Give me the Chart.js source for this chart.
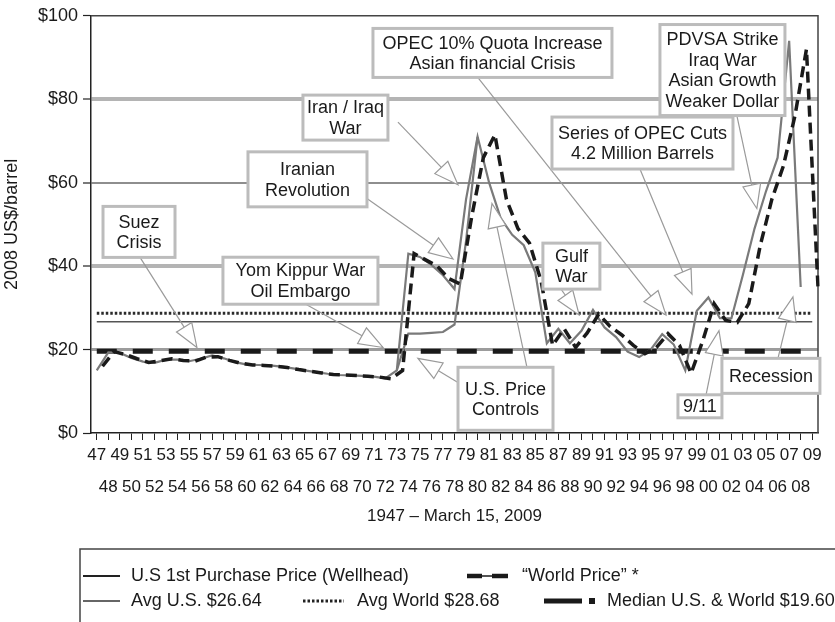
<!DOCTYPE html>
<html>
<head>
<meta charset="utf-8">
<script src="https://cdn.jsdelivr.net/npm/chart.js@4.4.1/dist/chart.umd.min.js"></script>
<style>
  html, body { margin: 0; padding: 0; background: #fff; }
  #wrap { width: 835px; height: 622px; }
</style>
</head>
<body>
<div id="wrap"><canvas id="oil-chart"></canvas></div>
<script>
/* Data, 2008 US$ per barrel */
// one category per year, 1947 - 2009
let years = ['47','48','49','50','51','52','53','54','55','56','57','58','59','60','61','62',
  '63','64','65','66','67','68','69','70','71','72','73','74','75','76','77','78','79','80',
  '81','82','83','84','85','86','87','88','89','90','91','92','93','94','95','96','97','98',
  '99','00','01','02','03','04','05','06','07','08','09']

// U.S. 1st purchase price (wellhead), solid line
let usPrice = [15.0, 19.3, 19.2, 18.0, 17.1, 16.8, 17.6, 17.6, 17.2, 17.8, 18.6, 17.9, 17.0,
  16.4, 16.3, 16.2, 15.9, 15.5, 15.0, 14.6, 14.2, 13.9, 13.8, 13.7, 13.5, 13.1, 15.0,
  43.0, 42.2, 40.3, 37.8, 34.5, 56.0, 71.0, 60.0, 51.5, 47.5, 45.0, 38.5, 21.5,
  25.0, 21.5, 24.5, 29.5, 25.3, 23.0, 19.5, 18.2, 20.0, 23.7, 21.2, 15.0,
  29.3, 32.5, 27.5, 27.5, 38.0, 49.0, 58.0, 66.0, 94.0, 35.0, null]

// lower U.S. track during price controls (1973 - 1980)
let usControlledPrice = [null, null, null, null, null, null, null, null, null, null, null, null, null,
  null, null, null, null, null, null, null, null, null, null, null, null, null, 15.0,
  23.8, 23.8, 24.0, 24.2, 26.0, 46.0, 71.0, null, null, null, null, null, null,
  null, null, null, null, null, null, null, null, null, null, null, null,
  null, null, null, null, null, null, null, null, null, null, null]

// "World Price", dashed line (drawn at the end of each year)
let worldPrice = [16.0, 19.5, 18.8, 17.8, 16.9, 17.3, 17.8, 17.4, 17.2, 18.2, 18.3, 17.4, 16.7,
  16.3, 16.2, 16.0, 15.7, 15.2, 14.8, 14.4, 14.0, 13.9, 13.8, 13.6, 13.4, 13.0, 15.0,
  43.0, 41.5, 40.0, 37.0, 35.7, 52.0, 66.0, 71.5, 56.0, 49.0, 45.5, 36.5, 21.0,
  25.0, 20.5, 24.0, 28.5, 25.5, 23.5, 21.0, 19.0, 20.5, 23.8, 21.0, 14.3,
  22.0, 31.0, 27.0, 26.5, 31.0, 45.0, 56.0, 64.0, 76.0, 92.0, 35.0]

let avgUS = 26.64
let avgWorld = 28.68
let medianPrice = 19.60

let yTicks = [0, 20, 40, 60, 80, 100]

// year boundaries: boundary k+1 is the end of year k
let yearEnds = ['start'].concat(years)

let FONT = "'Liberation Sans', Arial, Helvetica, sans-serif"
let TEXT = '#1a1a1a'

/* Callout boxes: centre and arrows in data units (year index, $) */
let callouts = [
  { text: ['Suez', 'Crisis'], at: [3.66, 48.2], w: 72, h: 51, arrows: [[3.75, 42.1, 8.68, 20.5]] },
  { text: ['Yom Kippur War', 'Oil Embargo'], at: [17.65, 36.5], w: 155, h: 47, arrows: [[18.04, 31.0, 24.8, 20.5]] },
  { text: ['Iranian', 'Revolution'], at: [18.26, 60.8], w: 119, h: 55, arrows: [[23.41, 56.2, 30.87, 41.7]] },
  { text: ['Iran / Iraq', 'War'], at: [21.55, 75.6], w: 85, h: 45, arrows: [[26.1, 74.5, 31.3, 59.5]] },
  { text: ['OPEC 10% Quota Increase', 'Asian financial Crisis'], at: [34.29, 91.1], w: 239, h: 49, arrows: [[33.03, 85.2, 49.32, 28.3]] },
  { text: ['Series of OPEC Cuts', '4.2 Million Barrels'], at: [47.29, 69.5], w: 181, h: 52, arrows: [[47.07, 63.3, 51.58, 33.3]] },
  { text: ['PDVSA Strike', 'Iraq War', 'Asian Growth', 'Weaker Dollar'], at: [54.22, 87.0], w: 125, h: 91, arrows: [[55.46, 76.2, 57.2, 53.8]] },
  { text: ['Gulf', 'War'], at: [41.13, 40.0], w: 57, h: 46, arrows: [[40.23, 34.5, 41.8, 28.3]] },
  { text: ['U.S. Price', 'Controls'], at: [35.42, 8.2], w: 95, h: 63, arrows: [[31.3, 12.1, 27.83, 17.9], [37.28, 15.7, 34.25, 55.0]] },
  { text: ['9/11'], at: [52.27, 6.4], w: 44, h: 23, arrows: [[52.79, 9.0, 53.92, 24.5]] },
  { text: ['Recession'], at: [58.42, 13.7], w: 98, h: 35, arrows: [[59.03, 17.9, 60.33, 32.6]] }
]

// fractional category index + value -> canvas pixels
function toPixel(chart, idx, val) {
  let xs = chart.scales.x
  let x0 = xs.getPixelForValue(0)
  let step = xs.getPixelForValue(1) - x0
  return [x0 + idx * step, chart.scales.y.getPixelForValue(val)]
}

function drawArrow(ctx, x1, y1, x2, y2) {
  let len = Math.hypot(x2 - x1, y2 - y1)
  let ux = (x2 - x1) / len, uy = (y2 - y1) / len
  let headLen = 24, half = 9
  let bx = x2 - ux * headLen, by = y2 - uy * headLen
  ctx.strokeStyle = '#9a9a9a'
  ctx.lineWidth = 1.2
  ctx.beginPath()
  ctx.moveTo(x1, y1)
  ctx.lineTo(bx, by)
  ctx.stroke()
  ctx.beginPath()
  ctx.moveTo(x2, y2)
  ctx.lineTo(bx - uy * half, by + ux * half)
  ctx.lineTo(bx + uy * half, by - ux * half)
  ctx.closePath()
  ctx.fillStyle = '#fff'
  ctx.fill()
  ctx.stroke()
}

let calloutPlugin = {
  id: 'callouts',
  afterDatasetsDraw(chart) {
    let ctx = chart.ctx
    ctx.save()
    callouts.forEach(c => {
      c.arrows.forEach(a => {
        let p1 = toPixel(chart, a[0], a[1])
        let p2 = toPixel(chart, a[2], a[3])
        drawArrow(ctx, p1[0], p1[1], p2[0], p2[1])
      })
    })
    callouts.forEach(c => {
      let p = toPixel(chart, c.at[0], c.at[1])
      let left = p[0] - c.w / 2, top = p[1] - c.h / 2
      ctx.fillStyle = '#fff'
      ctx.fillRect(left, top, c.w, c.h)
      ctx.strokeStyle = '#bcbcbc'
      ctx.lineWidth = 3
      ctx.strokeRect(left, top, c.w, c.h)
      ctx.fillStyle = TEXT
      ctx.font = '18px ' + FONT
      ctx.textAlign = 'center'
      ctx.textBaseline = 'middle'
      let lh = 20.5
      let y0 = p[1] - (c.text.length - 1) * lh / 2
      c.text.forEach((t, i) => ctx.fillText(t, p[0], y0 + i * lh + 1))
    })
    ctx.restore()
  }
}

// thin frame on top and right of the plot
let framePlugin = {
  id: 'frame',
  beforeDatasetsDraw(chart) {
    let a = chart.chartArea
    let ctx = chart.ctx
    ctx.save()
    ctx.strokeStyle = '#444'
    ctx.lineWidth = 1.5
    ctx.beginPath()
    ctx.moveTo(a.left, a.top)
    ctx.lineTo(a.right, a.top)
    ctx.lineTo(a.right, a.bottom)
    ctx.stroke()
    ctx.restore()
  }
}

function legendLine(ctx, x1, x2, y, width, dash, color) {
  ctx.strokeStyle = color
  ctx.lineWidth = width
  ctx.setLineDash(dash)
  ctx.beginPath()
  ctx.moveTo(x1, y)
  ctx.lineTo(x2, y)
  ctx.stroke()
  ctx.setLineDash([])
}

let legendPlugin = {
  id: 'boxLegend',
  afterDraw(chart) {
    let ctx = chart.ctx
    ctx.save()
    // box edge
    ctx.strokeStyle = '#444'
    ctx.lineWidth = 1.5
    ctx.beginPath()
    ctx.moveTo(80, 622)
    ctx.lineTo(80, 549)
    ctx.lineTo(835, 549)
    ctx.stroke()

    let row1 = 576, row2 = 601
    ctx.font = '18px ' + FONT
    ctx.fillStyle = TEXT
    ctx.textAlign = 'left'
    ctx.textBaseline = 'middle'

    legendLine(ctx, 83, 120, row1, 2, [], '#222')
    ctx.fillText('U.S 1st Purchase Price (Wellhead)', 131, row1)

    legendLine(ctx, 467, 482, row1, 4.5, [], '#1a1a1a')
    legendLine(ctx, 482, 492, row1, 1.5, [], '#1a1a1a')
    legendLine(ctx, 492, 508, row1, 4.5, [], '#1a1a1a')
    ctx.fillText('\u201cWorld Price\u201d *', 522, row1)

    legendLine(ctx, 83, 120, row2, 1.5, [], '#333')
    ctx.fillText('Avg U.S. $' + avgUS.toFixed(2), 131, row2)

    legendLine(ctx, 303, 344, row2, 3, [2.5, 2], '#222')
    ctx.fillText('Avg World $' + avgWorld.toFixed(2), 357, row2)

    legendLine(ctx, 544, 582, row2, 5, [], '#1a1a1a')
    ctx.fillStyle = '#1a1a1a'
    ctx.fillRect(589, row2 - 3, 6, 6)
    ctx.fillStyle = TEXT
    ctx.fillText('Median U.S. & World $' + medianPrice.toFixed(2), 607, row2)
    ctx.restore()
  }
}

// scanned grid: $80 and $40 lines look wide and pale, $60 and $20 narrower and darker
let gridColors = { 20: '#9c9c9c', 40: '#b4b4b4', 60: '#8e8e8e', 80: '#b4b4b4' }
let gridWidths = { 20: 3, 40: 4, 60: 2, 80: 4 }

let ctx = document.querySelector('#oil-chart').getContext('2d')

let oilChart = new Chart(ctx, {
  type: 'line',
  data: {
    labels: years,
    datasets: [
      {
        label: '"World Price" *',
        data: [null].concat(worldPrice),
        xAxisID: 'xEdge',
        borderColor: '#1a1a1a',
        borderWidth: 3.5,
        borderDash: [11, 6]
      },
      {
        label: 'U.S 1st Purchase Price (Wellhead)',
        data: usPrice,
        borderColor: '#7a7a7a',
        borderWidth: 2.2
      },
      {
        label: 'U.S. under price controls',
        data: usControlledPrice,
        borderColor: '#7a7a7a',
        borderWidth: 2.2
      },
      {
        label: 'Median U.S. & World',
        data: years.map(() => medianPrice),
        borderColor: '#1a1a1a',
        borderWidth: 5,
        borderDash: [20, 16]
      },
      {
        label: 'Avg World',
        data: years.map(() => avgWorld),
        borderColor: '#2a2a2a',
        borderWidth: 3,
        borderDash: [2.5, 2]
      },
      {
        label: 'Avg U.S.',
        data: years.map(() => avgUS),
        borderColor: '#555',
        borderWidth: 1.5
      }
    ]
  },
  options: {
    responsive: true,
    maintainAspectRatio: false,
    animation: false,
    devicePixelRatio: 1,
    layout: { padding: { top: 13, right: 17, bottom: 90, left: 0 } },
    elements: {
      point: { radius: 0 },
      line: { tension: 0, fill: false }
    },
    plugins: {
      legend: { display: false },
      tooltip: { enabled: false }
    },
    scales: {
      x: {
        type: 'category',
        offset: true,
        grid: {
          offset: false,
          drawOnChartArea: false,
          drawTicks: true,
          tickLength: 7,
          tickColor: '#222',
          tickWidth: 1
        },
        border: { color: '#222', width: 1.5 },
        ticks: {
          autoSkip: false,
          maxRotation: 0,
          minRotation: 0,
          padding: 7,
          color: TEXT,
          font: { family: FONT, size: 17, lineHeight: 0.94 },
          // odd years on the first row, even years on the second
          callback: (val, i) => i % 2 === 0 ? years[i] : ['', '', years[i]]
        },
        title: {
          display: true,
          text: '1947 \u2013 March 15, 2009',
          color: TEXT,
          font: { family: FONT, size: 17 },
          padding: { top: 0, bottom: 5 }
        },
        afterFit: s => { s.height = 99 }
      },
      xEdge: {
        type: 'category',
        labels: yearEnds,
        offset: false,
        display: false
      },
      y: {
        min: 0,
        max: 100,
        afterBuildTicks: s => { s.ticks = yTicks.map(v => ({ value: v })) },
        grid: {
          color: c => gridColors[c.tick.value] || 'rgba(0,0,0,0)',
          lineWidth: c => gridWidths[c.tick.value] || 1,
          tickColor: '#222',
          tickWidth: 1.2,
          tickLength: 8
        },
        border: { color: '#222', width: 1.5 },
        ticks: {
          padding: 5,
          color: TEXT,
          font: { family: FONT, size: 18 },
          callback: v => '$' + v
        },
        title: {
          display: true,
          text: '2008 US$/barrel',
          color: TEXT,
          font: { family: FONT, size: 18 },
          padding: { top: 1, bottom: 0 }
        },
        afterFit: s => { s.width = 91 }
      }
    }
  },
  plugins: [framePlugin, calloutPlugin, legendPlugin]
})
</script>
</body>
</html>
